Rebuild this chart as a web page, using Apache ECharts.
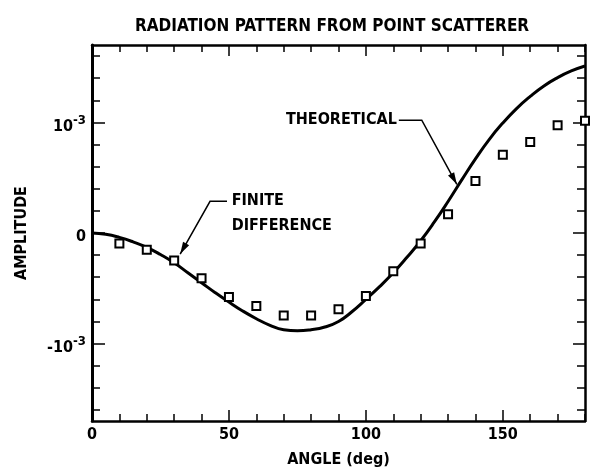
<!DOCTYPE html>
<html><head><meta charset="utf-8">
<script src="https://cdn.jsdelivr.net/npm/echarts@6/dist/echarts.min.js"></script>
<style>html,body{margin:0;padding:0;background:#fff}#c{width:592px;height:473px}</style>
</head><body><div id="c"></div>
<script>
// ---- data (amplitude values in units of 10^-3) ----
const titleText = 'RADIATION PATTERN FROM POINT SCATTERER';
const xName = 'ANGLE (deg)';
const yName = 'AMPLITUDE';
const xLabelTicks = [0, 50, 100, 150];
const xMinorTicks = [0,10,20,30,40,50,60,70,80,90,100,110,120,130,140,150,160,170,180];
const yLabelTicks = [-1, 0, 1];
const yMinorTicks = [-1.6,-1.4,-1.2,-1,-0.8,-0.6,-0.4,-0.2,0,0.2,0.4,0.6,0.8,1,1.2,1.4,1.6];
const yTickText = {'-1': '{b|-10}{s|-3}', '0': '{b|0}', '1': '{b|10}{s|-3}'};

const theoryAngle = [0, 5, 10, 15, 20, 25, 30, 35, 40, 45, 50, 55, 60, 65, 70, 75, 80, 85, 90, 95, 100, 105, 110, 115, 120, 125, 130, 135, 140, 145, 150, 155, 160, 165, 170, 175, 180];
const theoryAmp   = [0, -0.012, -0.04, -0.08, -0.13, -0.195, -0.27, -0.36, -0.45, -0.54, -0.625, -0.705, -0.775, -0.835, -0.875, -0.885, -0.875, -0.85, -0.80, -0.71, -0.60, -0.485, -0.36, -0.22, -0.07, 0.10, 0.285, 0.48, 0.67, 0.845, 0.995, 1.125, 1.235, 1.33, 1.405, 1.465, 1.51];

const fdAngle = [10, 20, 30, 40, 50, 60, 70, 80, 90, 100, 110, 120, 130, 140, 150, 160, 170, 180];
const fdAmp   = [-0.096, -0.151, -0.248, -0.409, -0.578, -0.66, -0.745, -0.745, -0.69, -0.569, -0.345, -0.096, 0.17, 0.47, 0.708, 0.824, 0.975, 1.015];

// annotation anchors (data coordinates)
const theoNote = {text: 'THEORETICAL', textEnd: [111.3, 1.02], elbow: [120.4, 1.02], tip: [133.2, 0.44]};
const fdNote = {lines: ['FINITE', 'DIFFERENCE'], textStart: [51.0, 0.287], lineStart: [49.3, 0.287], elbow: [43.1, 0.287], tip: [32.2, -0.19]};

const FONT = '"DejaVu Sans Condensed", "Liberation Sans", sans-serif';
const INK = '#000';

const chart = echarts.init(document.getElementById('c'), null, {renderer: 'canvas'});

function xAx(pos, ticks, len, showLine, labels) {
  return {
    type: 'value', position: pos, min: 0, max: 180,
    axisLine: {show: showLine, onZero: false, lineStyle: {color: INK, width: 2.5}},
    axisTick: {show: true, inside: true, length: len, customValues: ticks, lineStyle: {color: INK, width: 1.5}},
    axisLabel: labels ? {show: true, customValues: xLabelTicks, color: INK, fontFamily: FONT, fontSize: 16, fontWeight: 'bold', margin: 6} : {show: false},
    splitLine: {show: false},
    name: labels ? xName : '', nameLocation: 'middle', nameGap: 31,
    nameTextStyle: {color: INK, fontFamily: FONT, fontSize: 16, fontWeight: 'bold'}
  };
}
function yAx(pos, ticks, len, showLine, labels, w) {
  return {
    type: 'value', position: pos, min: -1.7, max: 1.7,
    axisLine: {show: showLine, onZero: false, lineStyle: {color: INK, width: w}},
    axisTick: {show: true, inside: true, length: len, customValues: ticks, lineStyle: {color: INK, width: 1.5}},
    axisLabel: labels ? {
      show: true, customValues: yLabelTicks, margin: 6,
      formatter: v => yTickText[String(Math.round(v))],
      rich: {
        b: {color: INK, fontFamily: FONT, fontSize: 16, fontWeight: 'bold', padding: [8, 0, 0, 0]},
        s: {color: INK, fontFamily: FONT, fontSize: 13, fontWeight: 'bold', padding: [0, 0, 4, 0]}
      }
    } : {show: false},
    splitLine: {show: false},
    name: labels ? yName : '', nameLocation: 'middle', nameGap: 62, nameRotate: 90,
    nameTextStyle: {color: INK, fontFamily: FONT, fontSize: 16, fontWeight: 'bold'}
  };
}

chart.setOption({
  animation: false,
  backgroundColor: '#fff',
  title: {text: titleText, left: 327, top: 13, textAlign: 'center',
    textStyle: {color: INK, fontFamily: FONT, fontSize: 17, fontWeight: 'bold'}},
  grid: {left: 92, right: 7, top: 45, bottom: 51},
  xAxis: [
    xAx('bottom', xMinorTicks, 7, true, true),
    xAx('bottom', xLabelTicks, 11, false, false),
    xAx('top', xMinorTicks, 7, true, false),
    xAx('top', xLabelTicks, 11, false, false)
  ],
  yAxis: [
    yAx('left', yMinorTicks, 8, true, true, 3),
    yAx('left', yLabelTicks, 13, false, false, 3),
    yAx('right', yMinorTicks, 8, true, false, 2.5),
    yAx('right', yLabelTicks, 12, false, false, 2.5)
  ],
  series: [
    {
      name: 'THEORETICAL', type: 'line', xAxisIndex: 0, yAxisIndex: 0,
      data: theoryAngle.map((a, i) => [a, theoryAmp[i]]),
      smooth: 0.5, showSymbol: false, symbol: 'none',
      lineStyle: {color: INK, width: 3}, z: 3
    },
    {
      name: 'FINITE DIFFERENCE', type: 'scatter', xAxisIndex: 0, yAxisIndex: 0,
      data: fdAngle.map((a, i) => [a, fdAmp[i]]),
      symbol: 'rect', symbolSize: 8,
      itemStyle: {color: '#fff', borderColor: INK, borderWidth: 2, opacity: 1}, z: 4
    }
  ]
});

function px(p) { return chart.convertToPixel({xAxisIndex: 0, yAxisIndex: 0}, p); }
function arrowHead(from, to, len, half) {
  const dx = to[0] - from[0], dy = to[1] - from[1];
  const d = Math.hypot(dx, dy), ux = dx / d, uy = dy / d;
  const bx = to[0] - ux * len, by = to[1] - uy * len;
  return [[to[0], to[1]], [bx - uy * half, by + ux * half], [bx + uy * half, by - ux * half]];
}
const tEnd = px(theoNote.textEnd), tElb = px(theoNote.elbow), tTip = px(theoNote.tip);
const fStart = px(fdNote.textStart), fLs = px(fdNote.lineStart), fElb = px(fdNote.elbow), fTip = px(fdNote.tip);
const annStyle = {fill: INK, font: 'bold 16px ' + FONT};
chart.setOption({
  graphic: [
    {type: 'text', x: tEnd[0], y: tEnd[1], style: Object.assign({text: theoNote.text, align: 'right', verticalAlign: 'middle'}, annStyle)},
    {type: 'polyline', shape: {points: [[tEnd[0] + 2, tEnd[1]], tElb, tTip]}, style: {stroke: INK, lineWidth: 1.5, fill: null}},
    {type: 'polygon', shape: {points: arrowHead(tElb, tTip, 12, 3.5)}, style: {fill: INK}},
    {type: 'text', x: fStart[0], y: fStart[1], style: Object.assign({text: fdNote.lines[0], align: 'left', verticalAlign: 'middle'}, annStyle)},
    {type: 'text', x: fStart[0], y: fStart[1] + 25, style: Object.assign({text: fdNote.lines[1], align: 'left', verticalAlign: 'middle'}, annStyle)},
    {type: 'polyline', shape: {points: [fLs, fElb, fTip]}, style: {stroke: INK, lineWidth: 1.5, fill: null}},
    {type: 'polygon', shape: {points: arrowHead(fElb, fTip, 12, 3.5)}, style: {fill: INK}}
  ]
});
</script></body></html>
